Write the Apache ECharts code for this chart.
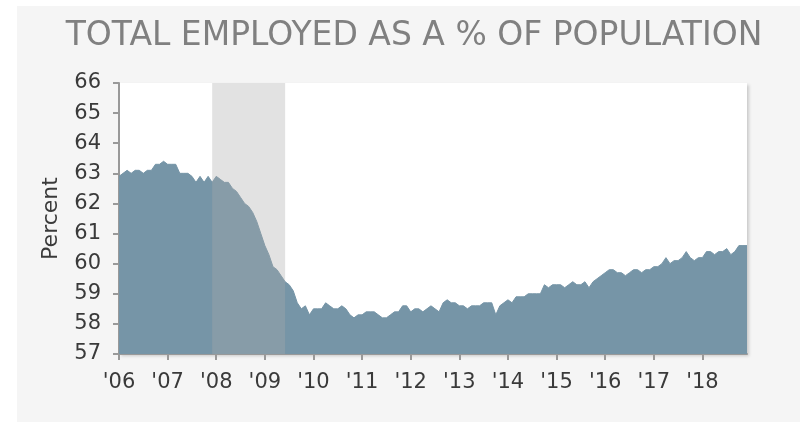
<!DOCTYPE html>
<html>
<head>
<meta charset="utf-8">
<script src="https://cdn.jsdelivr.net/npm/echarts@6/dist/echarts.min.js"></script>
<style>
  html, body { margin: 0; padding: 0; background: #fff; }
  .wrap { position: relative; width: 803px; height: 422px; }
  .panel { position: absolute; left: 17px; top: 6px; width: 783px; height: 416px; background: #f5f5f5; }
  #chart { position: absolute; left: 0; top: 0; width: 803px; height: 422px; }
</style>
</head>
<body>
<div class="wrap">
  <div class="panel"></div>
  <div id="chart"></div>
</div>
<script>
// 年份 (2006-2018)，每年12个月
const years = ['06', '07', '08', '09', '10', '11', '12', '13', '14', '15', '16', '17', '18']

// 就业人口比 (%)，按年分开
const v2006 = [62.9, 63.0, 63.1, 63.0, 63.1, 63.1, 63.0, 63.1, 63.1, 63.3, 63.3, 63.4]
const v2007 = [63.3, 63.3, 63.3, 63.0, 63.0, 63.0, 62.9, 62.7, 62.9, 62.7, 62.9, 62.7]
const v2008 = [62.9, 62.8, 62.7, 62.7, 62.5, 62.4, 62.2, 62.0, 61.9, 61.7, 61.4, 61.0]
const v2009 = [60.6, 60.3, 59.9, 59.8, 59.6, 59.4, 59.3, 59.1, 58.7, 58.5, 58.6, 58.3]
const v2010 = [58.5, 58.5, 58.5, 58.7, 58.6, 58.5, 58.5, 58.6, 58.5, 58.3, 58.2, 58.3]
const v2011 = [58.3, 58.4, 58.4, 58.4, 58.3, 58.2, 58.2, 58.3, 58.4, 58.4, 58.6, 58.6]
const v2012 = [58.4, 58.5, 58.5, 58.4, 58.5, 58.6, 58.5, 58.4, 58.7, 58.8, 58.7, 58.7]
const v2013 = [58.6, 58.6, 58.5, 58.6, 58.6, 58.6, 58.7, 58.7, 58.7, 58.3, 58.6, 58.7]
const v2014 = [58.8, 58.7, 58.9, 58.9, 58.9, 59.0, 59.0, 59.0, 59.0, 59.3, 59.2, 59.3]
const v2015 = [59.3, 59.3, 59.2, 59.3, 59.4, 59.3, 59.3, 59.4, 59.2, 59.4, 59.5, 59.6]
const v2016 = [59.7, 59.8, 59.8, 59.7, 59.7, 59.6, 59.7, 59.8, 59.8, 59.7, 59.8, 59.8]
const v2017 = [59.9, 59.9, 60.0, 60.2, 60.0, 60.1, 60.1, 60.2, 60.4, 60.2, 60.1, 60.2]
const v2018 = [60.2, 60.4, 60.4, 60.3, 60.4, 60.4, 60.5, 60.3, 60.4, 60.6, 60.6, 60.6]

// 衰退期 (2007-12 到 2009-06)
const recession = ['2007-12', '2009-06']

const yMin = 57
const yMax = 66

const values = [].concat(v2006, v2007, v2008, v2009, v2010, v2011, v2012,
  v2013, v2014, v2015, v2016, v2017, v2018)
const months = []
years.forEach(y => {
  for (let m = 1; m <= 12; m++) {
    months.push('20' + y + '-' + (m < 10 ? '0' + m : m))
  }
})
// 衰退期阴影：区间内取坐标轴上限，其余为空
const shade = months.map(m => (m >= recession[0] && m <= recession[1]) ? yMax : '-')

const font = 'DejaVu Sans'
const axisColor = '#999'
const textColor = '#3a3a3a'

let chart = echarts.init(document.getElementById('chart'))
let option = {
  backgroundColor: 'transparent',
  animation: false,
  title: {
    text: 'TOTAL EMPLOYED AS A % OF POPULATION',
    left: 409,
    textAlign: 'center',
    top: 15,
    textStyle: {
      color: '#808080',
      fontFamily: font,
      fontSize: 33,
      fontWeight: 'normal'
    }
  },
  grid: {
    left: 119,
    right: 56,
    top: 83,
    bottom: 68,
    show: true,
    backgroundColor: '#fff',
    borderWidth: 0,
    shadowColor: 'rgba(0,0,0,0.18)',
    shadowBlur: 3,
    shadowOffsetX: 2,
    shadowOffsetY: 2
  },
  xAxis: {
    type: 'category',
    data: months,
    boundaryGap: false,
    axisLine: { lineStyle: { color: axisColor, width: 2 } },
    axisTick: {
      interval: function (i) { return i % 12 === 0 },
      length: 6,
      lineStyle: { color: axisColor, width: 2 }
    },
    axisLabel: {
      interval: function (i) { return i % 12 === 0 },
      formatter: function (value) { return '\'' + value.substring(2, 4) },
      margin: 18,
      color: textColor,
      fontFamily: font,
      fontSize: 21
    },
    splitLine: { show: false }
  },
  yAxis: {
    type: 'value',
    min: yMin,
    max: yMax,
    interval: 1,
    name: 'Percent',
    nameLocation: 'middle',
    nameGap: 57,
    nameTextStyle: {
      color: textColor,
      fontFamily: font,
      fontSize: 22
    },
    axisLine: { show: true, lineStyle: { color: axisColor, width: 2 } },
    axisTick: { show: true, length: 6, lineStyle: { color: axisColor, width: 2 } },
    axisLabel: {
      margin: 18,
      color: textColor,
      fontFamily: font,
      fontSize: 21
    },
    splitLine: { show: false }
  },
  series: [
    {
      name: 'Employed',
      type: 'line',
      data: values,
      showSymbol: false,
      lineStyle: { width: 1, color: '#7695a7' },
      areaStyle: { color: '#7695a7', opacity: 1 },
      z: 2
    },
    {
      name: 'Recession',
      type: 'line',
      data: shade,
      showSymbol: false,
      silent: true,
      lineStyle: { width: 0, opacity: 0 },
      areaStyle: { color: 'rgba(170,170,170,0.34)', opacity: 1, origin: 'start' },
      z: 3
    }
  ]
}
chart.setOption(option)
</script>
</body>
</html>
